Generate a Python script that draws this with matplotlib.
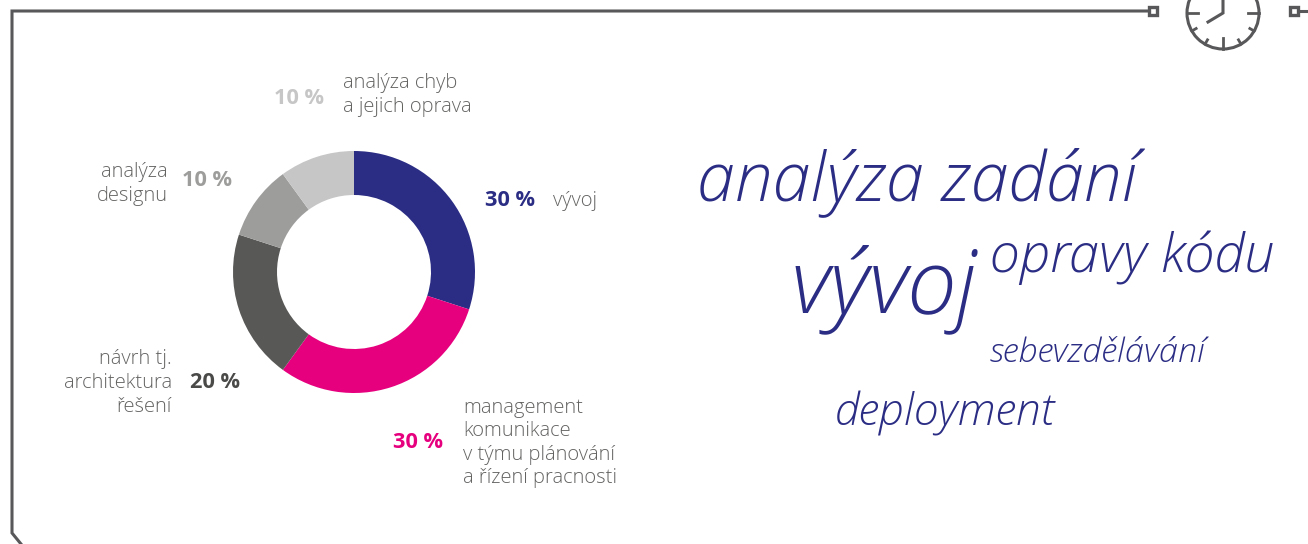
import matplotlib
matplotlib.use('Agg')
import matplotlib.pyplot as plt
import numpy as np
from matplotlib.patches import Circle, Rectangle

plt.rcParams['font.family'] = ['Open Sans', 'DejaVu Sans']

# data
shares = [30, 30, 20, 10, 10]
colors = ['#2b2d84', '#e6007e', '#585856', '#9d9d9c', '#c6c6c6']
pct_labels = ['30 %', '30 %', '20 %', '10 %', '10 %']
pct_colors = ['#2b2d84', '#e6007e', '#4a4a49', '#9d9d9c', '#c6c6c6']
names = ['vývoj', 'management\nkomunikace\nv týmu plánování\na řízení pracnosti',
         'návrh tj.\narchitektura\nřešení', 'analýza\ndesignu', 'analýza chyb\na jejich oprava']
words = ['analýza zadání', 'vývoj', 'opravy kódu', 'sebevzdělávání', 'deployment']

W, H = 1308, 544
fig = plt.figure(figsize=(W / 100, H / 100), dpi=100)

# pixel overlay for the frame, clock and texts
bg = fig.add_axes([0, 0, 1, 1])
bg.set_xlim(0, W)
bg.set_ylim(H, 0)
bg.axis('off')

line = '#58585a'
bg.plot([1149, 12, 12, 21], [11, 11, 533, 544], color=line, lw=2.2, solid_joinstyle='miter')
bg.add_patch(Rectangle((1148.5, 6.5), 8, 8, fc='white', ec=line, lw=2.4))
bg.add_patch(Rectangle((1290, 6.5), 8, 8, fc='white', ec=line, lw=2.4))
bg.plot([1299, 1308], [11, 11], color=line, lw=2.2)

# clock
cx, cy, r = 1223, 13, 36
bg.add_patch(Circle((cx, cy), r, fc='white', ec=line, lw=2.2))
for hour, ln in [(3, 11), (9, 11), (6, 11), (4, 5), (5, 5), (7, 5), (8, 5)]:
    a = np.deg2rad(90 - hour * 30)
    bg.plot([cx + r * np.cos(a), cx + (r - ln) * np.cos(a)],
            [cy - r * np.sin(a), cy - (r - ln) * np.sin(a)], color=line, lw=2)
bg.plot([cx, cx, 1208], [0, cy, 22], color=line, lw=2.2, solid_joinstyle='miter')

# donut
ox, oy, rad = 354, 272, 121
ax = fig.add_axes([(ox - rad) / W, 1 - (oy + rad) / H, 2 * rad / W, 2 * rad / H])
ax.pie(shares, colors=colors, startangle=90, counterclock=False, radius=1,
       wedgeprops={'width': 44 / 121, 'linewidth': 0})
ax.set_xlim(-1, 1)
ax.set_ylim(-1, 1)

# percentages
pct_xy = [(485, 201, 'left'), (393, 442, 'left'), (190, 383, 'left'), (182, 181, 'left'), (274, 98, 'left')]
for t, c, (x, y, ha) in zip(pct_labels, pct_colors, pct_xy):
    bg.text(x, y, t, color=c, fontsize=15.7, fontweight='bold', ha=ha, va='center')

# category names
name_xy = [(553, 201, 'left'), (463, 443, 'left'), (172, 383, 'right'), (168, 184, 'right'), (343, 95, 'left')]
for t, (x, y, ha) in zip(names, name_xy):
    bg.text(x, y, t, color='#636362', fontsize=14.5, fontweight='light', ha=ha, va='center',
            ma=ha, linespacing=1.24)

# word cloud
word_xy = [(697, 182, 49), (790, 289, 64), (990, 258, 39), (990, 353, 24.7), (835, 414, 32)]
for t, (x, y, s) in zip(words, word_xy):
    bg.text(x, y, t, color='#2b2d84', fontsize=s, style='italic', fontweight='light',
            ha='left', va='center')

fig.savefig('out.png', dpi=100)
